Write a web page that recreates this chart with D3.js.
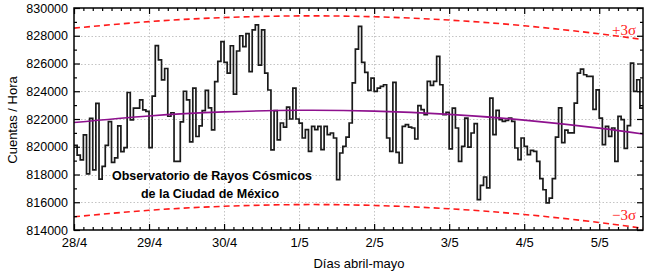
<!DOCTYPE html>
<html>
<head>
<meta charset="utf-8">
<script src="https://cdn.jsdelivr.net/npm/d3@7"></script>
<style>
  body { margin: 0; background: #fff; }
  svg { display: block; }
  text { font-family: "Liberation Sans", Arial, sans-serif; }
</style>
</head>
<body>
<div id="chart"></div>
<script>
// hourly counts starting 28/4 00:00
const counts = [
  820100, 819400, 819050, 820850, 818040, 822050, 818330, 823120, 817660, 818580,
  820100, 821810, 818880, 819200, 821510, 819650, 819940, 823910, 821930, 822790,
  822780, 823380, 822660, 822550, 819930, 823650, 827290, 826260, 824820, 825640,
  822200, 822450, 818950, 818950, 821800, 824000, 823380, 820350, 824220, 820740,
  821500, 822610, 824070, 822800, 821220, 824690, 826150, 827580, 826080, 825300,
  827280, 823800, 826900, 828000, 827210, 828150, 825420, 828420, 828780, 825890,
  828420, 825300, 824090, 819770, 822600, 820500, 821710, 821420, 822860, 822000,
  824230, 822000, 821700, 820630, 821230, 819670, 821470, 821230, 821470, 819790,
  821470, 820870, 820990, 820630, 817630, 819550, 820030, 820700, 821710, 824600,
  827040, 828670, 826080, 825360, 824060, 824950, 823990, 824230, 824350, 824470,
  820630, 819670, 824640, 819600, 818830, 821470, 821590, 821420, 821350, 820560,
  822960, 822670, 822310, 824710, 824420, 824710, 826510, 824470, 822310, 822480,
  819840, 822790, 821350, 818950, 820030, 822070, 819980, 820990, 821660, 816190,
  817220, 817820, 817030, 823510, 820870, 822620, 821950, 821830, 821900, 822070,
  821830, 819910, 819070, 820630, 820030, 819430, 819740, 819670, 818950, 817700,
  816900, 815950, 816300, 817700, 820700, 822800, 820300, 821200, 821000, 821000,
  823150, 825310, 825600, 825190, 825070, 825070, 822700, 824100, 822070, 820150,
  821470, 820750, 821350, 818950, 822190, 821950, 819880, 821520, 826030, 823990,
  824830, 822790
];

// smooth mean and +/-3 sigma bands (hours since 28/4 00:00)
const bandHours  = [0, 24, 48, 72, 96, 120, 144, 168, 182];
const meanCounts  = [821750, 822220, 822510, 822630, 822570, 822330, 821920, 821340, 820920];
const upperCounts = [828550, 829020, 829310, 829430, 829370, 829130, 828720, 828140, 827720];
const lowerCounts = [814950, 815420, 815710, 815830, 815770, 815530, 815120, 814540, 814120];

const dayLabels = ["28/4", "29/4", "30/4", "1/5", "2/5", "3/5", "4/5", "5/5"];
const yTicks = [814000, 816000, 818000, 820000, 822000, 824000, 826000, 828000, 830000];

const width = 648, height = 279;
const margin = { top: 8, right: 5, bottom: 49, left: 74 };
const endHour = 182;

const x = d3.scaleLinear().domain([0, endHour]).range([margin.left, width - margin.right]);
const y = d3.scaleLinear().domain([814000, 830000]).range([height - margin.bottom, margin.top]);

const svg = d3.select("#chart").append("svg")
  .attr("width", width)
  .attr("height", height);

svg.append("rect").attr("width", width).attr("height", height).attr("fill", "#fff");

const dayHours = dayLabels.map((d, i) => i * 24);
const minorHours = d3.range(0, endHour + 1, 3).filter(h => h % 24 !== 0);
const minorY = d3.range(815000, 830000, 2000);

// grid
const grid = svg.append("g")
  .attr("stroke", "#c4c4c4")
  .attr("stroke-width", 1)
  .attr("stroke-dasharray", "1.5,2");
grid.selectAll(".gy").data(yTicks.slice(1, -1)).enter().append("line")
  .attr("x1", margin.left).attr("x2", width - margin.right)
  .attr("y1", d => Math.round(y(d)) + 0.5).attr("y2", d => Math.round(y(d)) + 0.5);
grid.selectAll(".gx").data(dayHours.slice(1)).enter().append("line")
  .attr("x1", d => Math.round(x(d)) + 0.5).attr("x2", d => Math.round(x(d)) + 0.5)
  .attr("y1", margin.top).attr("y2", height - margin.bottom);

// sigma bands
const smooth = d3.line()
  .x((d, i) => x(bandHours[i]))
  .y(d => y(d))
  .curve(d3.curveNatural);

svg.append("path").datum(upperCounts)
  .attr("d", smooth).attr("fill", "none")
  .attr("stroke", "#ff1a1a").attr("stroke-width", 1.6).attr("stroke-dasharray", "6,4");
svg.append("path").datum(lowerCounts)
  .attr("d", smooth).attr("fill", "none")
  .attr("stroke", "#ff1a1a").attr("stroke-width", 1.6).attr("stroke-dasharray", "6,4");

// hourly counts as steps
const stepData = counts.map((v, i) => [i, v]);
stepData.push([endHour, counts[counts.length - 1]]);
svg.append("path").datum(stepData)
  .attr("d", d3.line().x(d => x(d[0])).y(d => y(d[1])).curve(d3.curveStepAfter))
  .attr("fill", "none")
  .attr("stroke", "#1a1a1a")
  .attr("stroke-width", 1.7);

// mean
svg.append("path").datum(meanCounts)
  .attr("d", smooth).attr("fill", "none")
  .attr("stroke", "#8e118e").attr("stroke-width", 1.6);

// axes with inward ticks
function styleAxis(g) {
  g.select(".domain").remove();
  g.selectAll(".tick line").attr("stroke", "#000").attr("stroke-width", 1.2);
  g.selectAll(".tick text").attr("fill", "#000");
}

svg.append("g")
  .attr("transform", `translate(0,${height - margin.bottom})`)
  .call(d3.axisBottom(x).tickValues(dayHours).tickFormat((d, i) => dayLabels[i])
    .tickSizeInner(-6).tickSizeOuter(0).tickPadding(8))
  .call(styleAxis)
  .selectAll("text").attr("font-size", 13);
svg.append("g")
  .attr("transform", `translate(0,${height - margin.bottom})`)
  .call(d3.axisBottom(x).tickValues(minorHours).tickFormat("").tickSizeInner(-3).tickSizeOuter(0))
  .call(styleAxis);
svg.append("g")
  .attr("transform", `translate(0,${margin.top})`)
  .call(d3.axisTop(x).tickValues(dayHours).tickFormat("").tickSizeInner(-6).tickSizeOuter(0))
  .call(styleAxis);
svg.append("g")
  .attr("transform", `translate(0,${margin.top})`)
  .call(d3.axisTop(x).tickValues(minorHours).tickFormat("").tickSizeInner(-3).tickSizeOuter(0))
  .call(styleAxis);

svg.append("g")
  .attr("transform", `translate(${margin.left},0)`)
  .call(d3.axisLeft(y).tickValues(yTicks).tickFormat(d3.format("d"))
    .tickSizeInner(-6).tickSizeOuter(0).tickPadding(6))
  .call(styleAxis)
  .selectAll("text").attr("font-size", 12.5);
svg.append("g")
  .attr("transform", `translate(${margin.left},0)`)
  .call(d3.axisLeft(y).tickValues(minorY).tickFormat("").tickSizeInner(-3).tickSizeOuter(0))
  .call(styleAxis);
svg.append("g")
  .attr("transform", `translate(${width - margin.right},0)`)
  .call(d3.axisRight(y).tickValues(yTicks).tickFormat("").tickSizeInner(-6).tickSizeOuter(0))
  .call(styleAxis);
svg.append("g")
  .attr("transform", `translate(${width - margin.right},0)`)
  .call(d3.axisRight(y).tickValues(minorY).tickFormat("").tickSizeInner(-3).tickSizeOuter(0))
  .call(styleAxis);

// frame
svg.append("rect")
  .attr("x", margin.left).attr("y", margin.top)
  .attr("width", width - margin.left - margin.right)
  .attr("height", height - margin.top - margin.bottom)
  .attr("fill", "none").attr("stroke", "#000").attr("stroke-width", 1.5);

// sigma labels
svg.append("text")
  .attr("x", 636).attr("y", 35)
  .attr("text-anchor", "end")
  .attr("fill", "#ff1a1a")
  .attr("font-size", 15)
  .style("font-family", "'Liberation Serif', 'Times New Roman', serif")
  .text("+3σ");
svg.append("text")
  .attr("x", 636).attr("y", 220)
  .attr("text-anchor", "end")
  .attr("fill", "#ff1a1a")
  .attr("font-size", 15)
  .style("font-family", "'Liberation Serif', 'Times New Roman', serif")
  .text("−3σ");

// inset title
svg.append("text")
  .attr("x", 212).attr("y", 180)
  .attr("text-anchor", "middle")
  .attr("font-size", 12.5).attr("font-weight", "bold")
  .text("Observatorio de Rayos Cósmicos");
svg.append("text")
  .attr("x", 210).attr("y", 198)
  .attr("text-anchor", "middle")
  .attr("font-size", 12.5).attr("font-weight", "bold")
  .text("de la Ciudad de México");

// axis titles
svg.append("text")
  .attr("x", 359).attr("y", 268)
  .attr("text-anchor", "middle")
  .attr("font-size", 13)
  .text("Días abril-mayo");
svg.append("text")
  .attr("transform", "translate(17,120) rotate(-90)")
  .attr("text-anchor", "middle")
  .attr("font-size", 13)
  .text("Cuentas / Hora");
</script>
</body>
</html>
